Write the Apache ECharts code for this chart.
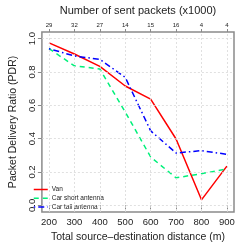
<!DOCTYPE html>
<html><head><meta charset="utf-8">
<script src="https://cdn.jsdelivr.net/npm/echarts@6/dist/echarts.min.js"></script>
<style>html,body{margin:0;padding:0;background:#fff}#c{width:249px;height:249px}</style>
</head><body><div id="c"></div>
<script>
const distances = [200, 300, 400, 500, 600, 700, 800, 900];
const sentPackets = ['29', '32', '27', '14', '15', '16', '4', '4'];
const yTicks = [0, 0.2, 0.4, 0.6, 0.8, 1.0];
const van = [0.975, 0.908, 0.834, 0.716, 0.637, 0.398, 0.033, 0.235];
const carShort = [0.94, 0.837, 0.818, 0.56, 0.29, 0.165, 0.19, 0.218];
const carTall = [0.94, 0.896, 0.876, 0.768, 0.447, 0.314, 0.328, 0.306];

const FONT = 'Liberation Sans';
const frameColor = '#8a8a8a';
const gridStyle = {color: '#d8d8d8', type: [2, 2], width: 0.8};

const pair = (arr) => distances.map((d, i) => [d, arr[i]]);

const gridLines = distances.map(d => ({xAxis: d}))
  .concat(yTicks.map(v => ({yAxis: v})));

const chart = echarts.init(document.getElementById('c'), null, {renderer: 'canvas'});
chart.setOption({
  animation: false,
  textStyle: {fontFamily: FONT},
  grid: {left: 28, right: 15, top: 28, bottom: 37, show: true, borderColor: frameColor, borderWidth: 1.5},
  xAxis: [{
    type: 'value', position: 'bottom', min: 172, max: 928,
    name: 'Total source\u2013destination distance (m)', nameLocation: 'middle', nameGap: 17,
    nameTextStyle: {fontSize: 10.5, color: '#222', fontFamily: FONT},
    axisLine: {show: false},
    axisTick: {show: true, length: 4, lineStyle: {color: frameColor}, customValues: distances},
    axisLabel: {fontSize: 9.5, color: '#222', margin: 5, customValues: distances, fontFamily: FONT},
    splitLine: {show: false}
  }, {
    type: 'value', position: 'top', min: 172, max: 928,
    name: 'Number of sent packets (x1000)', nameLocation: 'middle', nameGap: 16,
    nameTextStyle: {fontSize: 11, color: '#222', fontFamily: FONT},
    axisLine: {show: false},
    axisTick: {show: true, length: 3, lineStyle: {color: frameColor}, customValues: distances},
    axisLabel: {fontSize: 6, color: '#222', margin: 4, customValues: distances, fontFamily: FONT,
      formatter: v => sentPackets[distances.indexOf(v)]},
    splitLine: {show: false}
  }],
  yAxis: [{
    type: 'value', min: -0.04, max: 1.04,
    name: 'Packet Delivery Ratio (PDR)', nameLocation: 'middle', nameGap: 15, nameRotate: 90,
    nameTextStyle: {fontSize: 10.5, color: '#222', fontFamily: FONT},
    axisLine: {show: false},
    axisTick: {show: true, length: 4, lineStyle: {color: frameColor}, customValues: yTicks},
    axisLabel: {fontSize: 9.5, color: '#222', margin: 5, rotate: 90, customValues: yTicks, fontFamily: FONT,
      formatter: v => v.toFixed(1)},
    splitLine: {show: false}
  }],
  legend: {
    orient: 'vertical', left: 33, top: 186, itemWidth: 14, itemHeight: 6, itemGap: 1.7, padding: 0,
    itemStyle: {opacity: 0},
    lineStyle: {width: 1.5},
    textStyle: {fontSize: 6.5, color: '#222', fontFamily: FONT, padding: [0, 0, 0, -1]},
    data: ['Van', 'Car short antenna', 'Car tall antenna']
  },
  series: [{
    type: 'line', name: '_grid', data: [], silent: true,
    markLine: {silent: true, symbol: 'none', label: {show: false}, lineStyle: gridStyle, data: gridLines, animation: false}
  }, {
    type: 'line', name: 'Van', data: pair(van), symbol: 'none',
    lineStyle: {color: '#ff0000', width: 1.5}, itemStyle: {color: '#ff0000'}
  }, {
    type: 'line', name: 'Car short antenna', data: pair(carShort), symbol: 'none',
    lineStyle: {color: '#00f07a', width: 1.5, type: [5, 4]}, itemStyle: {color: '#00f07a'}
  }, {
    type: 'line', name: 'Car tall antenna', data: pair(carTall), symbol: 'none',
    lineStyle: {color: '#0000ff', width: 1.5, type: [1.5, 3, 6, 3]}, itemStyle: {color: '#0000ff'}
  }]
});
</script></body></html>
